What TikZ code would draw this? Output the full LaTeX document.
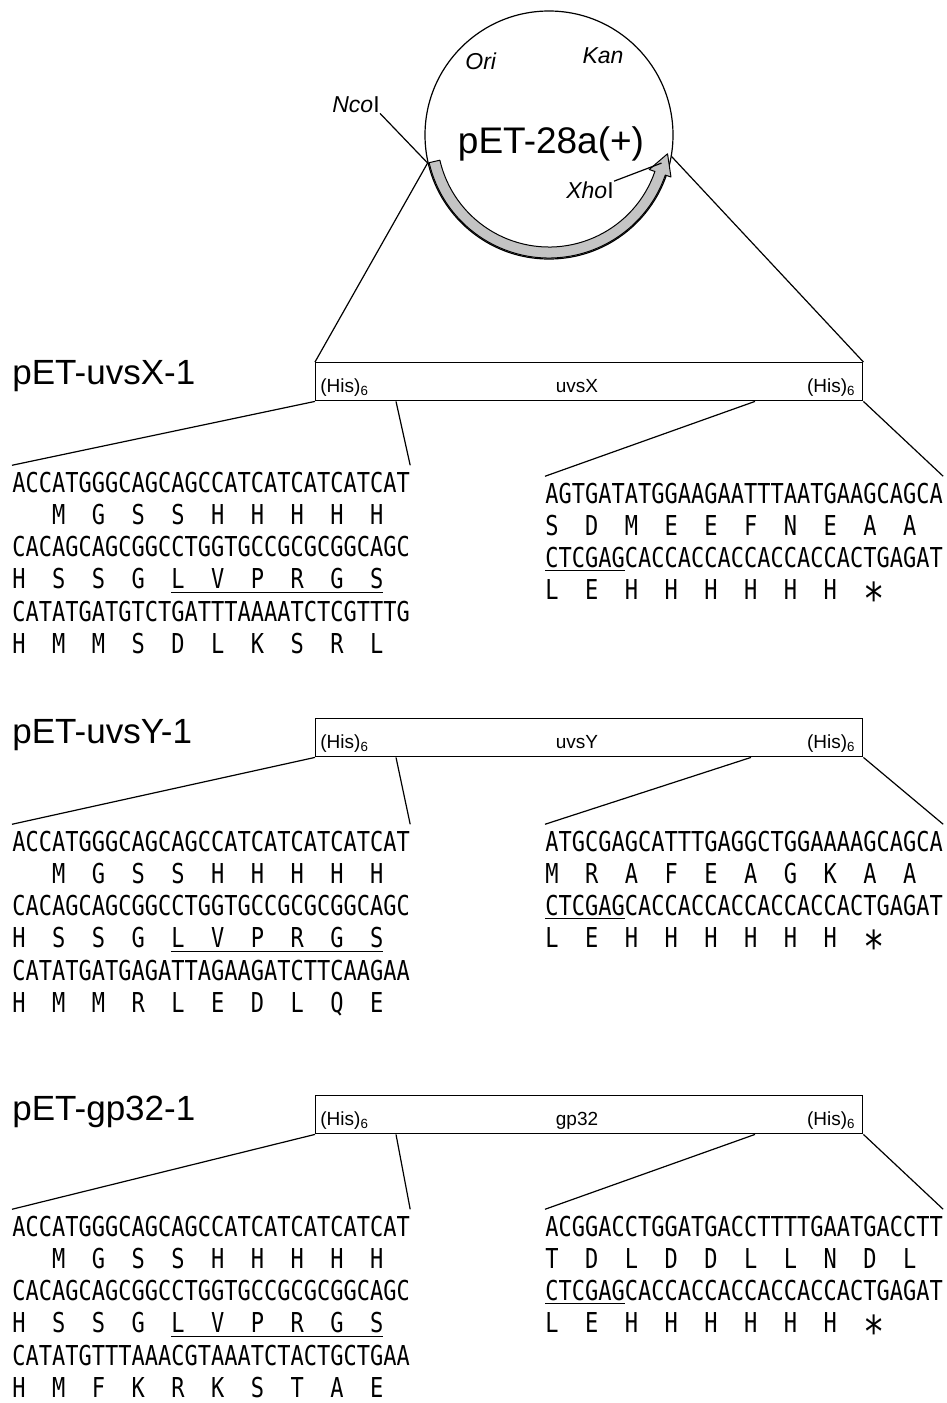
\documentclass[tikz,border=0pt]{standalone}
\usepackage{fontspec}
\setmainfont{Liberation Sans}
\newfontfamily\seqfont[FakeStretch=0.803,WordSpace={1,0,0}]{DejaVu Sans Mono}
\usetikzlibrary{calc}
\definecolor{bandgray}{RGB}{196,196,196}
\newcommand{\stopstar}{\raisebox{-7.5pt}{\fontsize{22}{22}\selectfont *}}
\tikzset{
  construct/.style={rectangle, draw, line width=0.7pt, minimum width=273.5pt,
    minimum height=19pt, anchor=north west, inner sep=0pt},
  boxlabel/.style={font=\fontsize{9.5}{11}\selectfont, inner sep=0pt, anchor=base},
  title/.style={font=\fontsize{17.5}{20}\selectfont, inner sep=0pt, anchor=base west},
  seqline/.style={font=\seqfont\fontsize{13.7}{16}\selectfont, inner sep=0pt, anchor=base west},
  site/.style={font=\fontsize{11.5}{13}\selectfont, inner sep=0pt},
  plasmid/.style={circle, draw, line width=0.6pt, minimum size=124pt, inner sep=0pt},
  band/.style={draw, fill=bandgray, line width=0.5pt, line join=round},
  link/.style={line width=0.6pt}
}

\begin{document}
\begin{tikzpicture}[x=0.5pt, y=-0.5pt]
  \useasboundingbox (0,0) rectangle (947,1403);

  % vector
  \node[plasmid] (pET) at (549,135) {};
  \node[font=\fontsize{18.5}{21}\selectfont, inner sep=0pt, anchor=base] (pname) at (551,153) {pET-28a(+)};
  \node[site] (ori) at (481,61) {\textit{Ori}};
  \node[site] (kan) at (603,56) {\textit{Kan}};
  \node[site] (ncol) at (356,105) {\textit{Nco}I};
  \node[site] (xhol) at (590,190) {\textit{Xho}I};
  \coordinate (nco) at (pET.193);
  \coordinate (xho) at (pET.350);
  \coordinate (xhohead) at ($(pET.center)+(346:58pt)$);

  \draw[band] ($(pET.center)+(193:61.5pt)$) arc[start angle=193, end angle=341, radius=61.5pt]
    -- ($(pET.center)+(341:64.5pt)$) -- ($(pET.center)+(351:60pt)$)
    -- ($(pET.center)+(341:53pt)$) -- ($(pET.center)+(341:56pt)$)
    arc[start angle=341, end angle=193, radius=56pt] -- cycle;
  \draw[link] (ncol.south east) -- (nco);
  \draw[link] (xhol.north east) -- (xhohead);

  % pET-uvsX-1
  \node[title] (tX) at (12,384) {pET-uvsX-1};
  \node[construct] (box1) at (315,362) {};
  \node[boxlabel, anchor=base west] (hX1) at (320,392) {(His)\textsubscript{6}};
  \node[boxlabel] (gX) at (577,392) {uvsX};
  \node[boxlabel, anchor=base east] (hX2) at (856,392) {(His)\textsubscript{6}};
  \coordinate (x1a) at ([xshift=40.5pt]box1.south west);
  \coordinate (x1b) at ([xshift=220pt]box1.south west);
  \foreach \s [count=\i from 0] in {ACCATGGGCAGCAGCCATCATCATCATCAT, {~~~M~~G~~S~~S~~H~~H~~H~~H~~H},
      CACAGCAGCGGCCTGGTGCCGCGCGGCAGC, {H~~S~~S~~G~~\underline{L~~V~~P~~R~~G~~S}},
      CATATGATGTCTGATTTAAAATCTCGTTTG, {H~~M~~M~~S~~D~~L~~K~~S~~R~~L}}
    \node[seqline] (xL\i) at (12,492+32.3*\i) {\s};
  \foreach \s [count=\i from 0] in {AGTGATATGGAAGAATTTAATGAAGCAGCA, {S~~D~~M~~E~~E~~F~~N~~E~~A~~A},
      {\underline{CTCGAG}CACCACCACCACCACCACTGAGAT}, {L~~E~~H~~H~~H~~H~~H~~H~~\stopstar}}
    \node[seqline] (xR\i) at (545,503+32.3*\i) {\s};
  \draw[link] (nco) -- (box1.north west);
  \draw[link] (xho) -- (box1.north east);
  \draw[link] (box1.south west) -- ([yshift=3pt]xL0.north west);
  \draw[link] (x1a) -- ([yshift=3pt]xL0.north east);
  \draw[link] (x1b) -- ([yshift=3pt]xR0.north west);
  \draw[link] (box1.south east) -- ([yshift=3pt]xR0.north east);

  % pET-uvsY-1
  \node[title] (tY) at (12,743) {pET-uvsY-1};
  \node[construct] (box2) at (315,718) {};
  \node[boxlabel, anchor=base west] (hY1) at (320,748) {(His)\textsubscript{6}};
  \node[boxlabel] (gY) at (577,748) {uvsY};
  \node[boxlabel, anchor=base east] (hY2) at (856,748) {(His)\textsubscript{6}};
  \coordinate (y1a) at ([xshift=40.5pt]box2.south west);
  \coordinate (y1b) at ([xshift=218pt]box2.south west);
  \foreach \s [count=\i from 0] in {ACCATGGGCAGCAGCCATCATCATCATCAT, {~~~M~~G~~S~~S~~H~~H~~H~~H~~H},
      CACAGCAGCGGCCTGGTGCCGCGCGGCAGC, {H~~S~~S~~G~~\underline{L~~V~~P~~R~~G~~S}},
      CATATGATGAGATTAGAAGATCTTCAAGAA, {H~~M~~M~~R~~L~~E~~D~~L~~Q~~E}}
    \node[seqline] (yL\i) at (12,851+32.3*\i) {\s};
  \foreach \s [count=\i from 0] in {ATGCGAGCATTTGAGGCTGGAAAAGCAGCA, {M~~R~~A~~F~~E~~A~~G~~K~~A~~A},
      {\underline{CTCGAG}CACCACCACCACCACCACTGAGAT}, {L~~E~~H~~H~~H~~H~~H~~H~~\stopstar}}
    \node[seqline] (yR\i) at (545,851+32.3*\i) {\s};
  \draw[link] (box2.south west) -- ([yshift=3pt]yL0.north west);
  \draw[link] (y1a) -- ([yshift=3pt]yL0.north east);
  \draw[link] (y1b) -- ([yshift=3pt]yR0.north west);
  \draw[link] (box2.south east) -- ([yshift=3pt]yR0.north east);

  % pET-gp32-1
  \node[title] (tG) at (12,1120) {pET-gp32-1};
  \node[construct] (box3) at (315,1095) {};
  \node[boxlabel, anchor=base west] (hG1) at (320,1125) {(His)\textsubscript{6}};
  \node[boxlabel] (gG) at (577,1125) {gp32};
  \node[boxlabel, anchor=base east] (hG2) at (856,1125) {(His)\textsubscript{6}};
  \coordinate (g1a) at ([xshift=40.5pt]box3.south west);
  \coordinate (g1b) at ([xshift=220pt]box3.south west);
  \foreach \s [count=\i from 0] in {ACCATGGGCAGCAGCCATCATCATCATCAT, {~~~M~~G~~S~~S~~H~~H~~H~~H~~H},
      CACAGCAGCGGCCTGGTGCCGCGCGGCAGC, {H~~S~~S~~G~~\underline{L~~V~~P~~R~~G~~S}},
      CATATGTTTAAACGTAAATCTACTGCTGAA, {H~~M~~F~~K~~R~~K~~S~~T~~A~~E}}
    \node[seqline] (gL\i) at (12,1236+32.3*\i) {\s};
  \foreach \s [count=\i from 0] in {ACGGACCTGGATGACCTTTTGAATGACCTT, {T~~D~~L~~D~~D~~L~~L~~N~~D~~L},
      {\underline{CTCGAG}CACCACCACCACCACCACTGAGAT}, {L~~E~~H~~H~~H~~H~~H~~H~~\stopstar}}
    \node[seqline] (gR\i) at (545,1236+32.3*\i) {\s};
  \draw[link] (box3.south west) -- ([yshift=3pt]gL0.north west);
  \draw[link] (g1a) -- ([yshift=3pt]gL0.north east);
  \draw[link] (g1b) -- ([yshift=3pt]gR0.north west);
  \draw[link] (box3.south east) -- ([yshift=3pt]gR0.north east);
\end{tikzpicture}
\end{document}
